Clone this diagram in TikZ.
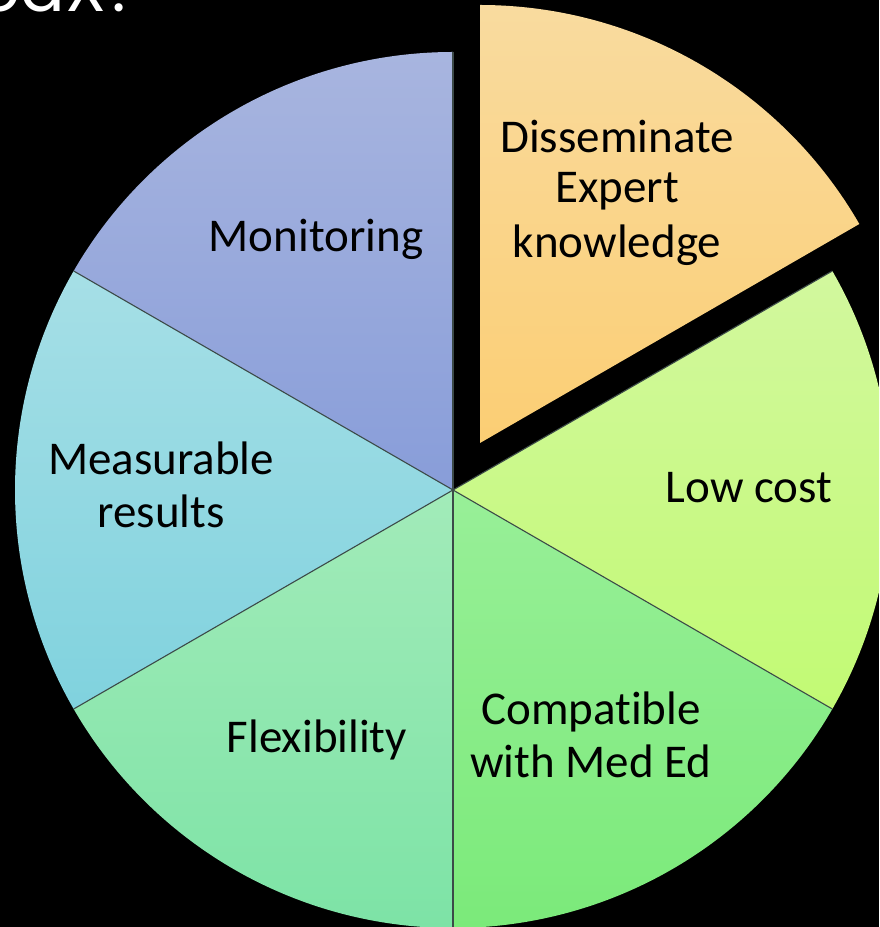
\documentclass[tikz,border=0pt]{standalone}
\usepackage{fontspec}
\setmainfont[RawFeature={-liga;-dlig}]{Carlito}
\newfontfamily\titlefont{Poppins}
\definecolor{disTop}{HTML}{F9DB9F}
\definecolor{disBot}{HTML}{FBCE74}
\definecolor{monTop}{HTML}{A8B5DF}
\definecolor{monBot}{HTML}{889DD9}
\definecolor{meaTop}{HTML}{A6DFE6}
\definecolor{meaBot}{HTML}{80D2DE}
\definecolor{flxTop}{HTML}{A2EBB9}
\definecolor{flxBot}{HTML}{7DE3A6}
\definecolor{cmpTop}{HTML}{98EF98}
\definecolor{cmpBot}{HTML}{7BEA7A}
\definecolor{lowTop}{HTML}{D2F89E}
\definecolor{lowBot}{HTML}{C2FA74}
\definecolor{sepline}{HTML}{3C4A48}
\tikzset{
  lbl/.style={font=\fontsize{47}{52}\selectfont, text=black, anchor=base, inner sep=0pt},
  sep/.style={draw=sepline, line width=1.1pt},
}
\begin{document}
\begin{tikzpicture}[x=1pt,y=1pt]
\fill[black] (0,0) rectangle (879,927);
\useasboundingbox (0,0) rectangle (879,927);
\clip (0,0) rectangle (879,927);
\def\R{438}
\coordinate (C) at (453,437);
\coordinate (E) at (480,484);
% slices
\shade[top color=monTop, bottom color=monBot] (C) -- ++(90:\R) arc[start angle=90, end angle=150, radius=\R] -- cycle;
\shade[top color=meaTop, bottom color=meaBot] (C) -- ++(150:\R) arc[start angle=150, end angle=210, radius=\R] -- cycle;
\shade[top color=flxTop, bottom color=flxBot] (C) -- ++(210:\R) arc[start angle=210, end angle=270, radius=\R] -- cycle;
\shade[top color=cmpTop, bottom color=cmpBot] (C) -- ++(270:\R) arc[start angle=270, end angle=330, radius=\R] -- cycle;
\shade[top color=lowTop, bottom color=lowBot] (C) -- ++(-30:\R) arc[start angle=-30, end angle=30, radius=\R] -- cycle;
\shade[top color=disTop, bottom color=disBot] (E) -- ++(30:\R) arc[start angle=30, end angle=90, radius=\R] -- cycle;
% separators
\draw[sep] (C) -- ++(90:\R);
\draw[sep] (C) -- ++(150:\R);
\draw[sep] (C) -- ++(210:\R);
\draw[sep] (C) -- ++(270:\R);
\draw[sep] (C) -- ++(330:\R);
\draw[sep] (C) -- ++(30:\R);
% labels
\node[lbl] (dis1) at (617,774) {Disseminate};
\node[lbl] (dis2) at (617,724) {Expert};
\node[lbl] (dis3) at (617,669) {knowledge};
\node[lbl] (mon) at (316,675) {Monitoring};
\node[lbl] (mea1) at (161,452) {Measurable};
\node[lbl] (mea2) at (161,399) {results};
\node[lbl] (flx) at (317,174) {Flexibility};
\node[lbl] (low) at (749,424) {Low cost};
\node[lbl] (cmp1) at (591,202) {Compatible};
\node[lbl] (cmp2) at (591,149) {with Med Ed};
% partial title
\node[font=\titlefont\fontsize{66}{70}\selectfont, text=white, anchor=base west, inner sep=0pt] (title) at (-22,915) {odX?};
\end{tikzpicture}
\end{document}
